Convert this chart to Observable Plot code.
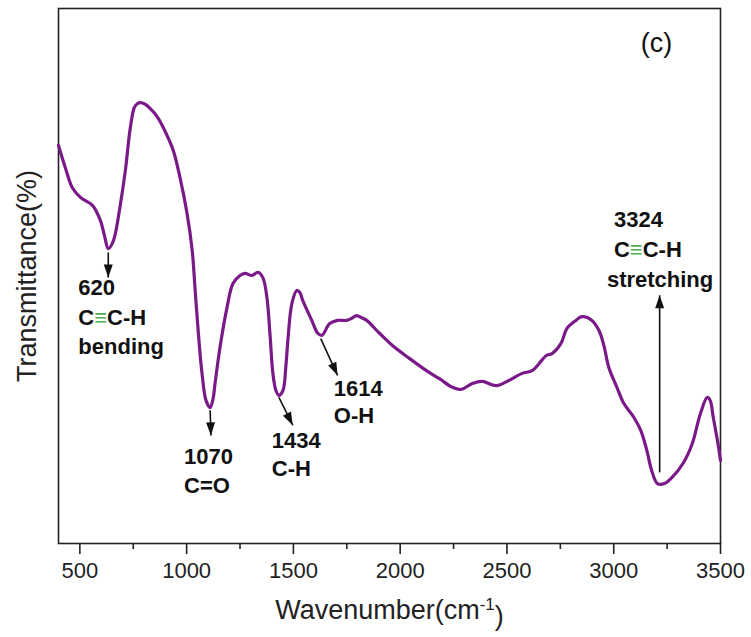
<!DOCTYPE html>
<html>
<head>
<meta charset="utf-8">
<script src="https://cdn.jsdelivr.net/npm/d3@7"></script>
<script src="https://cdn.jsdelivr.net/npm/@observablehq/plot@0.6"></script>
<style>
  html, body { margin: 0; padding: 0; background: white; }
</style>
</head>
<body>
<div id="chart"></div>
<script>
// Spectrum (wavenumber in cm-1, transmittance in arbitrary %)
const wavenumber = [400, 433, 465, 503, 559, 596, 615, 633, 652, 666, 689, 713, 736, 755, 769, 783, 806, 830, 862, 890, 937, 970, 1002, 1026, 1040, 1054, 1072, 1091, 1110, 1124, 1133, 1156, 1189, 1217, 1250, 1273, 1306, 1334, 1357, 1376, 1390, 1404, 1418, 1432, 1451, 1465, 1474, 1493, 1516, 1530, 1544, 1586, 1614, 1633, 1670, 1707, 1749, 1773, 1796, 1819, 1843, 1903, 1964, 2043, 2123, 2184, 2244, 2286, 2338, 2384, 2450, 2510, 2571, 2618, 2650, 2683, 2711, 2753, 2781, 2823, 2851, 2898, 2931, 2954, 2977, 3015, 3047, 3094, 3127, 3155, 3178, 3205, 3238, 3272, 3325, 3368, 3406, 3438, 3452, 3466, 3488, 3500];
const transmittance = [74.4, 70.1, 66.5, 64.7, 63.2, 60.4, 57.6, 55.1, 56.1, 57.9, 63.2, 69.7, 77.6, 81.5, 82.2, 82.4, 82.1, 81.3, 79.8, 77.8, 73.5, 68.2, 61.7, 54.8, 47.3, 39.8, 31.8, 26.7, 25.4, 27.1, 29.9, 36.6, 44.1, 48.6, 50.1, 50.5, 50.1, 50.7, 49.7, 46.0, 39.3, 31.8, 28.6, 27.7, 28.6, 33.3, 37.9, 44.9, 47.3, 46.9, 45.4, 41.7, 39.3, 38.9, 41.1, 41.7, 41.7, 42.1, 42.6, 42.2, 41.7, 39.3, 37.0, 34.6, 32.3, 30.8, 29.2, 28.8, 29.9, 30.3, 29.5, 30.5, 31.8, 32.3, 33.6, 35.1, 35.5, 37.4, 40.2, 41.7, 42.4, 41.7, 39.8, 37.0, 32.9, 29.2, 26.2, 23.6, 21.1, 17.4, 13.6, 11.2, 11.2, 12.3, 15.0, 18.7, 24.3, 27.3, 26.7, 23.6, 18.7, 15.5];

// Axis ticks
const majorTicks = [500, 1000, 1500, 2000, 2500, 3000, 3500];
const minorTicks = [750, 1250, 1750, 2250, 2750, 3250];

// Peak annotations: label lines
const labelText = ["620", "C≡C-H", "bending", "1070", "C=O", "1434", "C-H", "1614", "O-H", "3324", "C≡C-H", "stretching"];
const labelX    = [493, 493, 493, 988, 988, 1399, 1399, 1689, 1689, 3001, 3001, 2968];
const labelY    = [47.7, 42.1, 36.8, 16.1, 10.8, 19.1, 14.0, 28.8, 23.9, 60.4, 54.8, 49.2];

// Arrows: start and tip
const arrowX1 = [633, 1110, 1432, 1628, 3215];
const arrowY1 = [54.4, 24.9, 27.3, 38.3, 13.3];
const arrowX2 = [633, 1114, 1497, 1707, 3215];
const arrowY2 = [49.7, 20.2, 22.1, 31.4, 46.4];

const panelLabel = "(c)";

const W = 751, H = 637;
const mL = 58, mR = 31, mT = 8, mB = 94;
const xDomain = [400, 3500], yDomain = [0, 100];
const pxPerX = (W - mL - mR) / (xDomain[1] - xDomain[0]);
const pxPerY = (H - mT - mB) / (yDomain[1] - yDomain[0]);

const curve = wavenumber.map((w, i) => ({w, t: transmittance[i]}));
const labels = labelText.map((s, i) => ({s, x: labelX[i], y: labelY[i]}));
const arrows = arrowX1.map((x1, i) => ({x1, y1: arrowY1[i], x2: arrowX2[i], y2: arrowY2[i]}));

// narrow filled arrow head with its tip at the origin, pointing up
const arrowHead = {
  draw(ctx) {
    ctx.moveTo(0, 0);
    ctx.lineTo(-4.5, 13);
    ctx.lineTo(4.5, 13);
    ctx.closePath();
  }
};
const angleOf = d => {
  const dx = (d.x2 - d.x1) * pxPerX;
  const dy = -(d.y2 - d.y1) * pxPerY;
  return Math.atan2(dx, -dy) * 180 / Math.PI;
};

const font = "'Liberation Sans', Arial, Helvetica, sans-serif";

const plot = Plot.plot({
  width: W,
  height: H,
  marginLeft: mL,
  marginRight: mR,
  marginTop: mT,
  marginBottom: mB,
  style: {fontFamily: font, fontSize: "22px", background: "white", color: "#111"},
  x: {domain: xDomain, axis: null},
  y: {domain: yDomain, axis: null},
  marks: [
    Plot.frame({stroke: "#222", strokeWidth: 1.6}),
    Plot.axisX(majorTicks, {anchor: "bottom", tickSize: 11, tickPadding: 8, strokeWidth: 1.6, stroke: "#222", fontSize: 22, fill: "#222", label: null, tickFormat: d => String(d)}),
    Plot.axisX(minorTicks, {anchor: "bottom", tickSize: 6, strokeWidth: 1.6, stroke: "#222", fill: "none", label: null}),
    Plot.line(curve, {x: "w", y: "t", stroke: "#7a1a88", strokeWidth: 3.2, curve: "catmull-rom"}),
    Plot.link(arrows, {x1: "x1", y1: "y1", x2: "x2", y2: "y2", stroke: "#111", strokeWidth: 1.6}),
    Plot.dot(arrows, {x: "x2", y: "y2", symbol: arrowHead, fill: "#111", stroke: "none", rotate: angleOf}),
    Plot.text(labels, {x: "x", y: "y", text: "s", textAnchor: "start", fontWeight: "bold", fontSize: 22, fill: "#111"}),
    Plot.text([panelLabel], {frameAnchor: "top-right", dx: -64, dy: 35, lineAnchor: "middle", textAnchor: "middle", fontSize: 27, fill: "#111"}),
    Plot.text(["Wavenumber(cm-1)"], {frameAnchor: "bottom", dy: 67, lineAnchor: "middle", textAnchor: "middle", fontSize: 27, fill: "#222"}),
    Plot.text(["Transmittance(%)"], {frameAnchor: "left", dx: -31, rotate: -90, lineAnchor: "middle", textAnchor: "middle", fontSize: 27, fill: "#222"})
  ]
});

// colour the triple bond symbol and superscript the unit exponent
d3.select(plot).selectAll("text").each(function() {
  const el = d3.select(this);
  const t = this.textContent;
  if (t.includes("≡") && this.children.length === 0) {
    const parts = t.split("≡");
    el.text(null);
    el.append("tspan").text(parts[0]);
    el.append("tspan").attr("fill", "#4cb050").text("≡");
    el.append("tspan").text(parts[1]);
  } else if (t === "Wavenumber(cm-1)") {
    el.text(null);
    el.append("tspan").text("Wavenumber(cm");
    el.append("tspan").attr("font-size", "17").attr("dy", "-0.55em").text("-1");
    el.append("tspan").attr("dy", "0.55em").text(")");
  }
});

document.getElementById("chart").appendChild(plot);
</script>
</body>
</html>
